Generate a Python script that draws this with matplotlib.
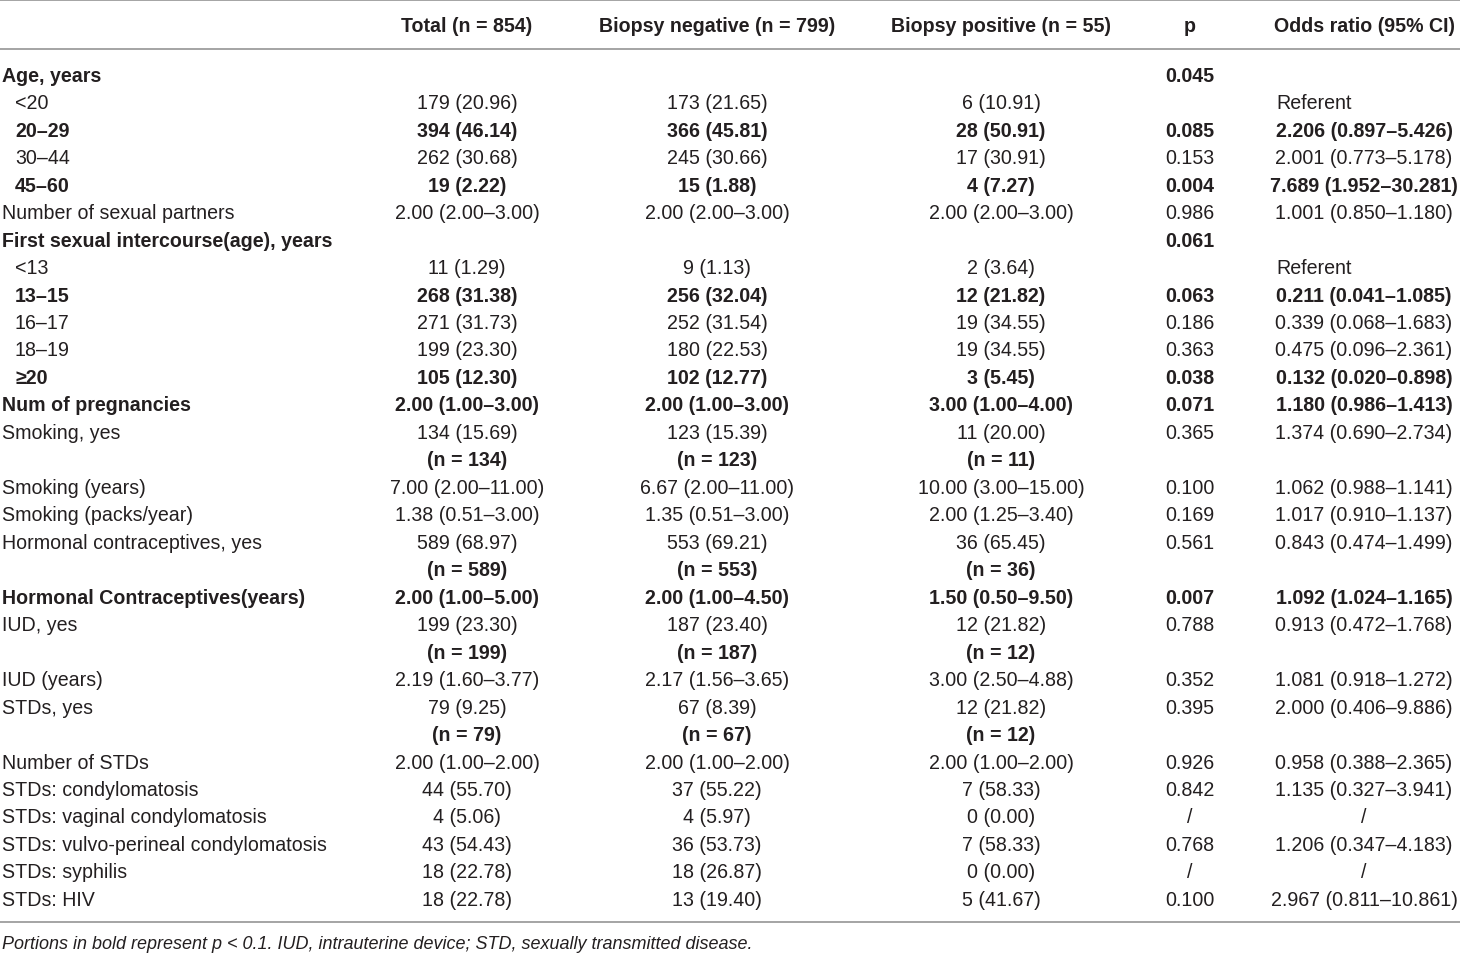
import matplotlib
matplotlib.use("Agg")
import matplotlib.pyplot as plt

plt.rcParams['font.family'] = ['Liberation Sans', 'DejaVu Sans']

headers = ["", "Total (n = 854)", "Biopsy negative (n = 799)", "Biopsy positive (n = 55)", "p", "Odds ratio (95% CI)"]

labels = [
    "Age, years", "<20", "20–29", "30–44", "45–60",
    "Number of sexual partners",
    "First sexual intercourse(age), years", "<13", "13–15", "16–17", "18–19", "≥20",
    "Num of pregnancies", "Smoking, yes", "", "Smoking (years)", "Smoking (packs/year)",
    "Hormonal contraceptives, yes", "", "Hormonal Contraceptives(years)",
    "IUD, yes", "", "IUD (years)", "STDs, yes", "", "Number of STDs",
    "STDs: condylomatosis", "STDs: vaginal condylomatosis",
    "STDs: vulvo-perineal condylomatosis", "STDs: syphilis", "STDs: HIV",
]

total = [
    "", "179 (20.96)", "394 (46.14)", "262 (30.68)", "19 (2.22)",
    "2.00 (2.00–3.00)",
    "", "11 (1.29)", "268 (31.38)", "271 (31.73)", "199 (23.30)", "105 (12.30)",
    "2.00 (1.00–3.00)", "134 (15.69)", "(n = 134)", "7.00 (2.00–11.00)", "1.38 (0.51–3.00)",
    "589 (68.97)", "(n = 589)", "2.00 (1.00–5.00)",
    "199 (23.30)", "(n = 199)", "2.19 (1.60–3.77)", "79 (9.25)", "(n = 79)", "2.00 (1.00–2.00)",
    "44 (55.70)", "4 (5.06)", "43 (54.43)", "18 (22.78)", "18 (22.78)",
]

negative = [
    "", "173 (21.65)", "366 (45.81)", "245 (30.66)", "15 (1.88)",
    "2.00 (2.00–3.00)",
    "", "9 (1.13)", "256 (32.04)", "252 (31.54)", "180 (22.53)", "102 (12.77)",
    "2.00 (1.00–3.00)", "123 (15.39)", "(n = 123)", "6.67 (2.00–11.00)", "1.35 (0.51–3.00)",
    "553 (69.21)", "(n = 553)", "2.00 (1.00–4.50)",
    "187 (23.40)", "(n = 187)", "2.17 (1.56–3.65)", "67 (8.39)", "(n = 67)", "2.00 (1.00–2.00)",
    "37 (55.22)", "4 (5.97)", "36 (53.73)", "18 (26.87)", "13 (19.40)",
]

positive = [
    "", "6 (10.91)", "28 (50.91)", "17 (30.91)", "4 (7.27)",
    "2.00 (2.00–3.00)",
    "", "2 (3.64)", "12 (21.82)", "19 (34.55)", "19 (34.55)", "3 (5.45)",
    "3.00 (1.00–4.00)", "11 (20.00)", "(n = 11)", "10.00 (3.00–15.00)", "2.00 (1.25–3.40)",
    "36 (65.45)", "(n = 36)", "1.50 (0.50–9.50)",
    "12 (21.82)", "(n = 12)", "3.00 (2.50–4.88)", "12 (21.82)", "(n = 12)", "2.00 (1.00–2.00)",
    "7 (58.33)", "0 (0.00)", "7 (58.33)", "0 (0.00)", "5 (41.67)",
]

p_values = [
    "0.045", "", "0.085", "0.153", "0.004",
    "0.986",
    "0.061", "", "0.063", "0.186", "0.363", "0.038",
    "0.071", "0.365", "", "0.100", "0.169",
    "0.561", "", "0.007",
    "0.788", "", "0.352", "0.395", "", "0.926",
    "0.842", "/", "0.768", "/", "0.100",
]

odds_ratio = [
    "", "Referent", "2.206 (0.897–5.426)", "2.001 (0.773–5.178)", "7.689 (1.952–30.281)",
    "1.001 (0.850–1.180)",
    "", "Referent", "0.211 (0.041–1.085)", "0.339 (0.068–1.683)", "0.475 (0.096–2.361)", "0.132 (0.020–0.898)",
    "1.180 (0.986–1.413)", "1.374 (0.690–2.734)", "", "1.062 (0.988–1.141)", "1.017 (0.910–1.137)",
    "0.843 (0.474–1.499)", "", "1.092 (1.024–1.165)",
    "0.913 (0.472–1.768)", "", "1.081 (0.918–1.272)", "2.000 (0.406–9.886)", "", "0.958 (0.388–2.365)",
    "1.135 (0.327–3.941)", "/", "1.206 (0.347–4.183)", "/", "2.967 (0.811–10.861)",
]

bold_rows = [0, 2, 4, 6, 8, 11, 12, 14, 18, 19, 21, 24]
indent_rows = [1, 2, 3, 4, 7, 8, 9, 10, 11]

footnote = ("Portions in bold represent p < 0.1. IUD, intrauterine device; "
            "STD, sexually transmitted disease.")

# ---- layout ----
W, H = 1460, 954
fig = plt.figure(figsize=(W / 100, H / 100), dpi=100)
ax = fig.add_axes([0, 0, 1, 1])
ax.set_xlim(0, W)
ax.set_ylim(H, 0)
ax.axis('off')

FS = 14.1
FS_NOTE = 13.0
TXT = '#231f20'
LINE = '#8c8c8c'

col_x = [2, 467, 717, 1001, 1190, 1364]
label_indent = 13
ref_x = 1276
header_y = 25
row0_y = 75
row_dy = 27.47
base_off = 6.8

for x0, x1, y in [(0, W, 1.2), (0, W, 50), (0, W, 923)]:
    ax.plot([x0, x1], [y, y], color=LINE, lw=1.1, solid_capstyle='butt')

for j, h in enumerate(headers):
    if not h:
        continue
    ax.text(col_x[j], header_y + base_off, h, ha='center', va='baseline',
            fontsize=FS, fontweight='bold', color=TXT)

cols = [total, negative, positive, p_values, odds_ratio]
for i, lab in enumerate(labels):
    y = row0_y + i * row_dy + base_off
    w = 'bold' if i in bold_rows else 'normal'
    if lab:
        x = col_x[0] + (label_indent if i in indent_rows else 0)
        ax.text(x, y, lab, ha='left', va='baseline', fontsize=FS, fontweight=w, color=TXT)
    for j, col in enumerate(cols, start=1):
        v = col[i]
        if not v:
            continue
        if v == "Referent":
            ax.text(ref_x, y, v, ha='left', va='baseline', fontsize=FS, fontweight=w, color=TXT)
        else:
            ax.text(col_x[j], y, v, ha='center', va='baseline', fontsize=FS, fontweight=w, color=TXT)

ax.text(2, 942 + base_off, footnote, ha='left', va='baseline', fontsize=FS_NOTE,
        fontstyle='italic', color=TXT)

fig.savefig('out.png', dpi=100)
